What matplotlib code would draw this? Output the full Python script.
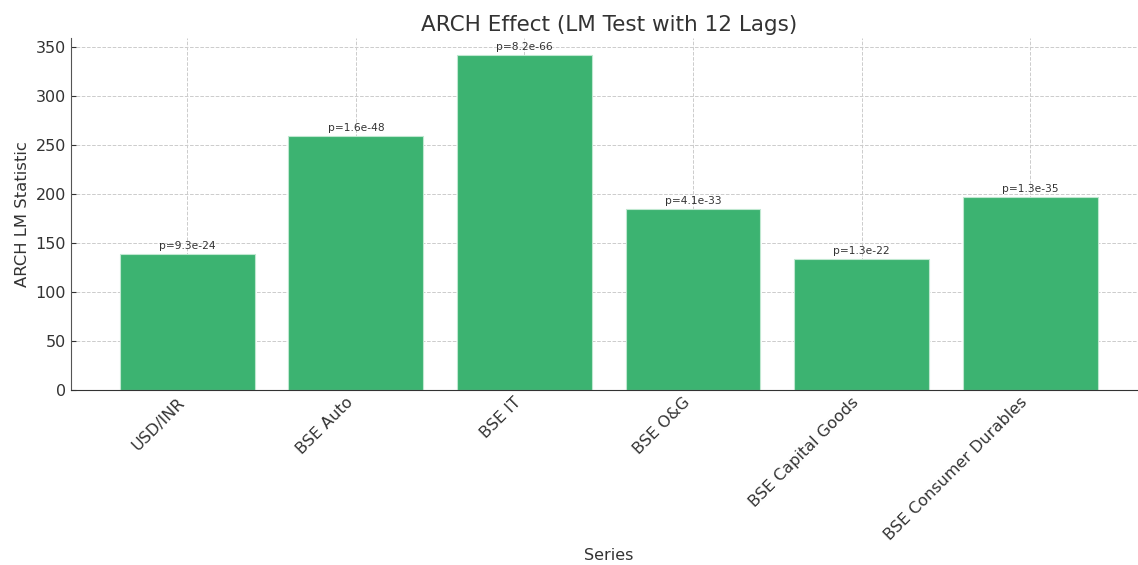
import matplotlib.pyplot as plt

series = ['USD/INR', 'BSE Auto', 'BSE IT', 'BSE O&G',
          'BSE Capital Goods', 'BSE Consumer Durables']
lm_stat = [139, 259, 342, 185, 134, 197]
p_labels = ['9.3e-24', '1.6e-48', '8.2e-66', '4.1e-33', '1.3e-22', '1.3e-35']

text_color = '#333333'
plt.rcParams['text.color'] = text_color
plt.rcParams['axes.labelcolor'] = text_color
plt.rcParams['xtick.color'] = text_color
plt.rcParams['ytick.color'] = text_color

fig = plt.figure(figsize=(11.38, 5.65), dpi=100)
ax = fig.add_axes([0.0624, 0.3097, 0.945, 0.6233])

bars = ax.bar(series, lm_stat, width=0.8, color='mediumseagreen',
              edgecolor='#bfe8d0', linewidth=0.8, zorder=2)

for b, p in zip(bars, p_labels):
    ax.text(b.get_x() + b.get_width() / 2, b.get_height() + 3, 'p=' + p,
            ha='center', va='bottom', fontsize=7.7, color=text_color)

ax.set_title('ARCH Effect (LM Test with 12 Lags)', fontsize=15.5,
             color=text_color, pad=5)
ax.set_xlabel('Series', fontsize=11.5, labelpad=3)
ax.set_ylabel('ARCH LM Statistic', fontsize=11.8)
ax.tick_params(axis='both', labelsize=11.5, direction='in')
plt.setp(ax.get_xticklabels(), rotation=45, ha='right')

ax.grid(True, linestyle='--', color='#cccccc', linewidth=0.7, zorder=0)
ax.set_axisbelow(True)
ax.spines['top'].set_visible(False)
ax.spines['right'].set_visible(False)
ax.spines['left'].set_color('#555555')
ax.spines['bottom'].set_color('#333333')

fig.savefig('out.png', dpi=100)
